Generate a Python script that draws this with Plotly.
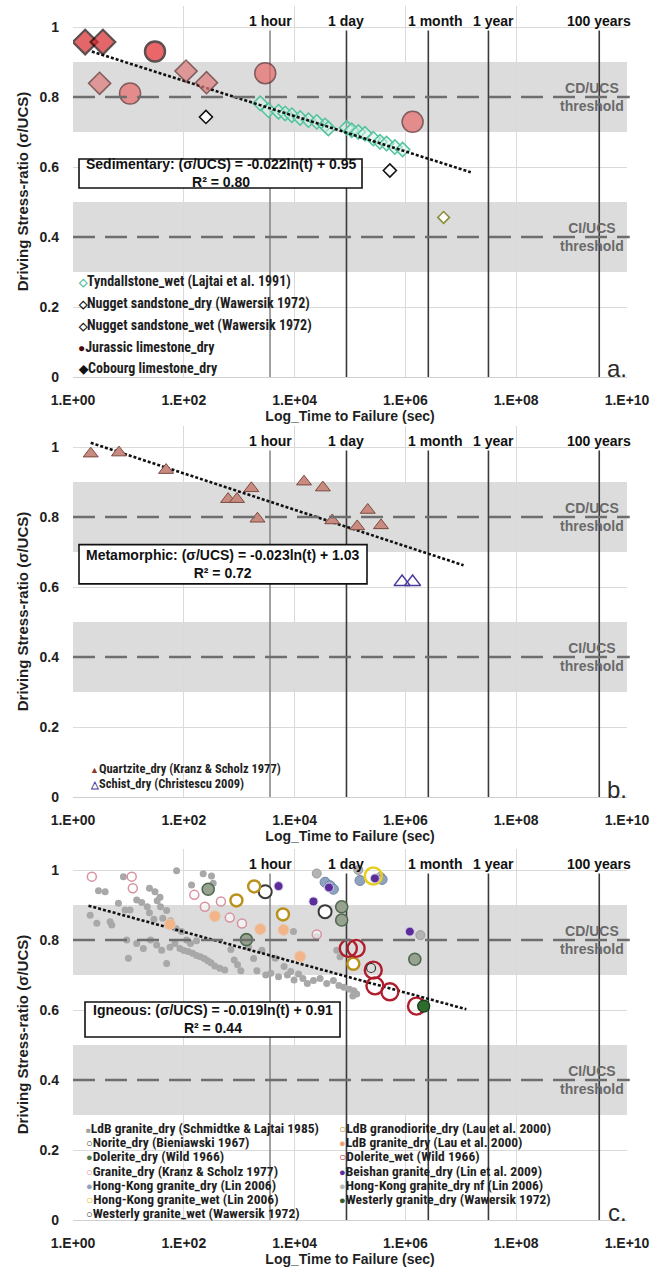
import numpy as np
import plotly.graph_objects as go

# ======================= DATA =======================
# x values: log10 of time to failure (s); y values: driving stress ratio (sigma/UCS)

# ---- Panel a: sedimentary ----
tyndall_log10_t = [3.38, 3.53, 3.71, 3.83, 3.95, 4.10, 4.25, 4.40, 4.55, 4.61, 4.94, 5.03, 5.15, 5.27, 5.42, 5.54, 5.66, 5.81, 5.95]
tyndall_ratio = [0.782, 0.762, 0.758, 0.753, 0.748, 0.740, 0.734, 0.729, 0.719, 0.710, 0.712, 0.705, 0.700, 0.695, 0.681, 0.672, 0.667, 0.657, 0.650]
nugget_dry_log10_t = [2.40, 5.72]
nugget_dry_ratio = [0.743, 0.590]
nugget_wet_log10_t = [6.69]
nugget_wet_ratio = [0.456]
jurassic_log10_t = [1.03, 1.48, 3.47, 6.13]
jurassic_ratio = [0.810, 0.930, 0.868, 0.729]
cobourg_log10_t = [0.22, 0.54, 0.48, 2.04, 2.41]
cobourg_ratio = [0.957, 0.957, 0.839, 0.874, 0.841]

# ---- Panel b: metamorphic ----
quartzite_log10_t = [0.32, 0.83, 1.68, 2.80, 2.96, 3.22, 3.33, 4.17, 4.51, 4.68, 5.13, 5.32, 5.56]
quartzite_ratio = [0.981, 0.984, 0.934, 0.851, 0.851, 0.882, 0.795, 0.901, 0.884, 0.790, 0.773, 0.820, 0.776]
schist_log10_t = [5.94, 6.13]
schist_ratio = [0.614, 0.614]

# ---- Panel c: igneous ----
schmidtke_log10_t = [0.46, 0.58, 0.91, 1.38, 1.48, 1.57, 1.87, 2.14, 2.35, 2.50, 2.53,
                     0.31, 0.43, 0.67, 0.70, 0.82, 0.94, 1.03, 1.15, 1.24, 1.34, 1.38, 1.46, 1.52, 1.58, 1.62, 1.69, 1.76, 1.86, 1.96, 2.05, 2.12, 2.23,
                     0.97, 1.00, 1.15, 1.27, 1.40, 1.51, 1.60, 1.69, 1.75, 1.84, 1.93, 2.00, 2.08, 2.16, 2.23, 2.30, 2.37, 2.43, 2.49, 2.56, 2.65, 2.74,
                     2.85, 2.91, 2.97, 3.03, 3.17, 3.26, 3.32, 3.41, 3.48, 3.57, 3.65, 3.71, 3.81, 3.87, 3.93, 3.99, 4.07, 4.15, 4.23, 4.34, 4.46, 4.58, 4.70, 4.80, 4.89, 4.99, 5.07,
                     5.12, 5.05, 3.98, 4.40, 4.76, 4.82]
schmidtke_ratio = [0.941, 0.938, 0.981, 0.948, 0.938, 0.922, 0.998, 0.957, 0.989, 0.983, 0.962,
                   0.871, 0.848, 0.852, 0.843, 0.905, 0.886, 0.886, 0.914, 0.907, 0.895, 0.878, 0.859, 0.912, 0.895, 0.862, 0.884, 0.855, 0.833, 0.824, 0.800, 0.790, 0.798,
                   0.800, 0.748, 0.790, 0.776, 0.800, 0.786, 0.771, 0.733, 0.779, 0.790, 0.776, 0.770, 0.767, 0.762, 0.756, 0.752, 0.747, 0.741, 0.735, 0.726, 0.719, 0.714,
                   0.773, 0.743, 0.729, 0.712, 0.779, 0.747, 0.712, 0.771, 0.700, 0.705, 0.748, 0.695, 0.724, 0.700, 0.710, 0.686, 0.703, 0.690, 0.676, 0.684, 0.690, 0.676, 0.684, 0.670, 0.665, 0.659, 0.655,
                   0.646, 0.640, 0.824, 0.810, 0.771, 0.752]
norite_log10_t = [3.47, 4.55]
norite_ratio = [0.938, 0.881]
dolerite_dry_log10_t = [2.44, 4.85, 4.85, 6.17, 3.13]
dolerite_dry_ratio = [0.945, 0.895, 0.857, 0.745, 0.801]
granite_ks_log10_t = [0.34, 1.06, 1.08, 2.19, 2.38, 2.67, 2.83, 3.05, 4.40]
granite_ks_ratio = [0.981, 0.981, 0.948, 0.929, 0.895, 0.910, 0.864, 0.847, 0.816]
hk_dry_log10_t = [4.55, 4.64, 4.70, 5.18, 5.58]
hk_dry_ratio = [0.965, 0.955, 0.945, 0.970, 0.973]
hk_wet_log10_t = [5.42]
hk_wet_ratio = [0.983]
westerly_wet_log10_t = [5.38]
westerly_wet_ratio = [0.720]
granodiorite_log10_t = [3.27, 2.95, 3.79, 5.06]
granodiorite_ratio = [0.953, 0.913, 0.873, 0.732]
ldb_lau_log10_t = [1.75, 2.56, 3.38, 3.80, 4.10]
ldb_lau_ratio = [0.845, 0.868, 0.831, 0.829, 0.753]
dolerite_wet_log10_t = [4.97, 5.11, 5.42, 5.45, 5.72, 6.20]
dolerite_wet_ratio = [0.776, 0.776, 0.714, 0.669, 0.652, 0.611]
beishan_log10_t = [3.71, 4.34, 4.62, 5.45, 6.08]
beishan_ratio = [0.954, 0.910, 0.950, 0.976, 0.824]
hk_nf_log10_t = [4.40, 5.15, 5.55, 6.27]
hk_nf_ratio = [0.990, 1.000, 0.981, 0.814]
westerly_dry_log10_t = [6.33]
westerly_dry_ratio = [0.611]

# ---- trend lines (end points) and equations ----
trend_a_log10_t = [0.34, 7.18]
trend_a_ratio = [0.930, 0.585]
trend_b_log10_t = [0.32, 7.05]
trend_b_ratio = [1.012, 0.662]
trend_c_log10_t = [0.28, 7.10]
trend_c_ratio = [0.898, 0.602]
equations = ["Sedimentary: (σ/UCS) = -0.022ln(t) + 0.95<br>R² = 0.80",
             "Metamorphic: (σ/UCS) = -0.023ln(t) + 1.03<br>R² = 0.72",
             "Igneous: (σ/UCS) = -0.019ln(t) + 0.91<br>R² = 0.44"]

# ---- reference times and thresholds ----
time_labels = ["1 hour", "1 day", "1 month", "1 year", "100 years"]
time_seconds = [3600, 86400, 2.592e6, 3.156e7, 3.156e9]
threshold_values = [0.8, 0.4]
threshold_labels = ["CD/UCS<br>threshold", "CI/UCS<br>threshold"]
x_tick_values = [1, 1e2, 1e4, 1e6, 1e8, 1e10]
x_tick_labels = ["1.E+00", "1.E+02", "1.E+04", "1.E+06", "1.E+08", "1.E+10"]
y_tick_values = [0, 0.2, 0.4, 0.6, 0.8, 1.0]
y_tick_labels = ["0", "0.2", "0.4", "0.6", "0.8", "1"]
panel_letters = ["a.", "b.", "c."]

legend_a = ["Tyndallstone_wet (Lajtai et al. 1991)", "Nugget sandstone_dry (Wawersik 1972)",
            "Nugget sandstone_wet (Wawersik 1972)", "Jurassic limestone_dry", "Cobourg limestone_dry"]
legend_b = ["Quartzite_dry (Kranz & Scholz 1977)", "Schist_dry (Christescu 2009)"]
legend_c_left = ["LdB granite_dry (Schmidtke & Lajtai 1985)", "Norite_dry (Bieniawski 1967)", "Dolerite_dry (Wild 1966)",
                 "Granite_dry (Kranz & Scholz 1977)", "Hong-Kong granite_dry (Lin 2006)", "Hong-Kong granite_wet (Lin 2006)",
                 "Westerly granite_wet (Wawersik 1972)"]
legend_c_right = ["LdB granodiorite_dry (Lau et al. 2000)", "LdB granite_dry (Lau et al. 2000)", "Dolerite_wet (Wild 1966)",
                  "Beishan granite_dry (Lin et al. 2009)", "Hong-Kong granite_dry nf (Lin 2006)", "Westerly granite_dry (Wawersik 1972)"]

# ======================= LAYOUT GEOMETRY =======================
W, H = 653, 1268
X0_PX, X1_PX = 73, 627
ZERO_PX = [377, 797, 1220]
UNIT_PX = 350.0
YMAX = 1.06
FONT = "Liberation Sans, Arial, Helvetica, sans-serif"
NARROW = "Roboto Condensed, Liberation Sans Narrow, Arial Narrow, Liberation Sans, Arial, sans-serif"


def ydom(z):
    top = z - YMAX * UNIT_PX
    return [1 - z / H, 1 - top / H]


def v_at(p, ypx):
    return (ZERO_PX[p] - ypx) / UNIT_PX


def xd_at(xpx):
    return (xpx - X0_PX) / (X1_PX - X0_PX)


def T(v):
    return 10 ** np.asarray(v, dtype=float)


fig = go.Figure()
axes = [("x", "y"), ("x2", "y2"), ("x3", "y3")]

# ---- reference time lines (drawn first, under markers) ----
for p, (xa, ya) in enumerate(axes):
    for lab, ts in zip(time_labels, time_seconds):
        col = "#8a8a8a" if lab == "1 hour" else "#3a3a3a"
        fig.add_trace(go.Scatter(x=[ts, ts], y=[0, 0.99], mode="lines", xaxis=xa, yaxis=ya,
                                 line=dict(color=col, width=1.6), hoverinfo="skip", showlegend=False))


def add_pts(p, lx, ly, name, **mk):
    xa, ya = axes[p]
    fig.add_trace(go.Scatter(x=T(lx), y=ly, mode="markers", name=name, xaxis=xa, yaxis=ya,
                             marker=mk, showlegend=False))


def add_trend(p, lx, ly):
    xa, ya = axes[p]
    fig.add_trace(go.Scatter(x=T(lx), y=ly, mode="lines", xaxis=xa, yaxis=ya, hoverinfo="skip",
                             line=dict(color="#111111", width=2.6, dash="3px,2px"), showlegend=False))


# ---- panel a ----
add_pts(0, tyndall_log10_t, tyndall_ratio, "Tyndallstone_wet", symbol="diamond", size=11,
        color="rgba(215,243,232,0.55)", line=dict(color="#52c29f", width=1.5))
add_trend(0, trend_a_log10_t, trend_a_ratio)
add_pts(0, nugget_dry_log10_t, nugget_dry_ratio, "Nugget sandstone_dry", symbol="diamond", size=10,
        color="white", line=dict(color="#111111", width=1.6))
add_pts(0, nugget_wet_log10_t, nugget_wet_ratio, "Nugget sandstone_wet", symbol="diamond", size=9,
        color="white", line=dict(color="#8c8c3c", width=1.6))
add_pts(0, jurassic_log10_t, jurassic_ratio, "Jurassic limestone_dry", symbol="circle", size=[21, 20, 21, 21],
        color=["#e8696b", "#e3262b", "#e8696b", "#e8696b"],
        line=dict(color=["#5a2626", "#1a0505", "#5a2626", "#5a2626"], width=[1.5, 2.4, 1.5, 1.5]))
add_pts(0, cobourg_log10_t, cobourg_ratio, "Cobourg limestone_dry", symbol="diamond", size=[19, 19, 17, 17, 17],
        color=["#d8262b", "#d8262b", "#e07a7a", "#e07a7a", "#e07a7a"],
        line=dict(color=["#1a0505", "#1a0505", "#5a2a2a", "#5a2a2a", "#5a2a2a"], width=[2.2, 2.2, 1.5, 1.5, 1.5]))

# ---- panel b ----
add_trend(1, trend_b_log10_t, trend_b_ratio)
add_pts(1, quartzite_log10_t, quartzite_ratio, "Quartzite_dry", symbol="triangle-up", size=13,
        color="#c98a80", line=dict(color="#7a4a40", width=1))
add_pts(1, schist_log10_t, schist_ratio, "Schist_dry", symbol="triangle-up-open", size=14,
        color="#4a3aa0", line=dict(width=1.5))

# ---- panel c ----
add_pts(2, schmidtke_log10_t, schmidtke_ratio, "LdB granite_dry (Schmidtke)", symbol="circle", size=7,
        color="#a8a8a8", line=dict(width=0))
add_trend(2, trend_c_log10_t, trend_c_ratio)
add_pts(2, granite_ks_log10_t, granite_ks_ratio, "Granite_dry", symbol="circle", size=9,
        color="rgba(255,255,255,0.6)", line=dict(color="#d8929f", width=1.5))
add_pts(2, ldb_lau_log10_t, ldb_lau_ratio, "LdB granite_dry (Lau)", symbol="circle", size=11,
        color="#f2b58a", line=dict(color="#e8c8b0", width=1))
add_pts(2, hk_nf_log10_t, hk_nf_ratio, "Hong-Kong granite_dry nf", symbol="circle", size=9,
        color="#b4b4b4", line=dict(color="#9a9a9a", width=1))
add_pts(2, dolerite_dry_log10_t, dolerite_dry_ratio, "Dolerite_dry", symbol="circle", size=12,
        color="#97a390", line=dict(color="#4f6a4f", width=1.6))
add_pts(2, hk_dry_log10_t, hk_dry_ratio, "Hong-Kong granite_dry", symbol="circle", size=10,
        color="#8ea3bf", line=dict(color="#6f84a0", width=1))
add_pts(2, norite_log10_t, norite_ratio, "Norite_dry", symbol="circle", size=13,
        color="white", line=dict(color="#3a3a3a", width=2))
add_pts(2, granodiorite_log10_t, granodiorite_ratio, "LdB granodiorite_dry", symbol="circle", size=12,
        color="white", line=dict(color="#b8901a", width=2.4))
add_pts(2, hk_wet_log10_t, hk_wet_ratio, "Hong-Kong granite_wet", symbol="circle", size=17,
        color="rgba(255,255,255,0)", line=dict(color="#e6cf1f", width=2.6))
add_pts(2, beishan_log10_t, beishan_ratio, "Beishan granite_dry", symbol="circle", size=9,
        color="#5b2d9a", line=dict(color="#d8d0ea", width=1))
add_pts(2, dolerite_wet_log10_t, dolerite_wet_ratio, "Dolerite_wet", symbol="circle", size=17,
        color="rgba(255,255,255,0)", line=dict(color="#b01e2e", width=2.4))
add_pts(2, westerly_wet_log10_t, westerly_wet_ratio, "Westerly granite_wet", symbol="circle", size=9,
        color="rgba(255,255,255,0)", line=dict(color="#333333", width=1.2))
add_pts(2, westerly_dry_log10_t, westerly_dry_ratio, "Westerly granite_dry", symbol="circle", size=12,
        color="#2e6b2e", line=dict(color="#163a16", width=1.2))

# ======================= AXES =======================
layout = dict(width=W, height=H, margin=dict(l=0, r=0, t=0, b=0, autoexpand=False),
              paper_bgcolor="white", plot_bgcolor="white", showlegend=False,
              font=dict(family=FONT, color="#1a1a1a"))
tickfont = dict(family=FONT, size=14, color="#1f1f1f", weight="bold")
for p, (xa, ya) in enumerate(axes):
    xk = "xaxis" if p == 0 else f"xaxis{p+1}"
    yk = "yaxis" if p == 0 else f"yaxis{p+1}"
    layout[xk] = dict(type="log", range=[0, 10], domain=[X0_PX / W, X1_PX / W], anchor=ya, automargin=False,
                      tickvals=x_tick_values, ticktext=x_tick_labels, tickfont=tickfont,
                      showgrid=True, gridcolor="#dadada", gridwidth=1, zeroline=False,
                      showline=True, linecolor="#d0d0d0", linewidth=1, ticks="", ticklabelstandoff=10,
                      title=dict(text="Log_Time to Failure (sec)", standoff=3,
                                 font=dict(family=FONT, size=14, color="#1f1f1f", weight="bold")),
                      fixedrange=True)
    layout[yk] = dict(range=[0, YMAX], domain=ydom(ZERO_PX[p]), anchor=xa, automargin=False,
                      tickvals=y_tick_values, ticktext=y_tick_labels, tickfont=tickfont,
                      showgrid=True, gridcolor="#dadada", gridwidth=1, zeroline=False,
                      showline=False, ticks="", ticklabelstandoff=13,
                      title=dict(text="Driving Stress-ratio (σ/UCS)", standoff=7,
                                 font=dict(family=FONT, size=15, color="#1f1f1f", weight="bold")),
                      fixedrange=True)

shapes = []
annotations = []
boxes = [([79, 362], [0.540, 0.623]), ([79, 367], [0.609, 0.721]), ([85, 340], [0.523, 0.623])]
label_shift = {"1 hour": 0, "1 day": 0, "1 month": 7, "1 year": 5, "100 years": 0}

for p, (xa, ya) in enumerate(axes):
    # grey bands
    for lo, hi in [(0.7, 0.9), (0.3, 0.5)]:
        shapes.append(dict(type="rect", xref=f"{xa} domain", yref=ya, x0=0, x1=1, y0=lo, y1=hi,
                           fillcolor="#dcdcdc", line=dict(width=0), layer="below"))
    # threshold lines + labels
    for tv, tl in zip(threshold_values, threshold_labels):
        shapes.append(dict(type="line", xref=f"{xa} domain", yref=ya, x0=0, x1=1.005, y0=tv, y1=tv,
                           line=dict(color="#6e6e6e", width=2.4, dash="22px,10px"), layer="above"))
        annotations.append(dict(xref=f"{xa} domain", yref=ya, x=xd_at(592), y=tv, text=tl, showarrow=False,
                                xanchor="center", yanchor="middle",
                                font=dict(family=FONT, size=14, color="#6a6a6a", weight="bold")))
    # time labels
    for lab, ts in zip(time_labels, time_seconds):
        annotations.append(dict(xref=xa, yref=ya, x=np.log10(ts), y=v_at(p, ZERO_PX[p] - 356), text=lab,
                                showarrow=False, xanchor="center", yanchor="middle", xshift=label_shift[lab],
                                font=dict(family=FONT, size=14, color="#111111", weight="bold")))
    # equation box
    (bx0, bx1), (by0, by1) = boxes[p]
    shapes.append(dict(type="rect", xref=f"{xa} domain", yref=ya, x0=xd_at(bx0), x1=xd_at(bx1), y0=by0, y1=by1,
                       fillcolor="white", line=dict(color="#111111", width=1.6), layer="above"))
    annotations.append(dict(xref=f"{xa} domain", yref=ya, x=(xd_at(bx0) + xd_at(bx1)) / 2, y=(by0 + by1) / 2,
                            text=equations[p], showarrow=False, xanchor="center", yanchor="middle", align="center",
                            font=dict(family=FONT, size=14, color="#111111", weight="bold")))
    # panel letter
    annotations.append(dict(xref=f"{xa} domain", yref=ya, x=xd_at(617), y=v_at(p, ZERO_PX[p] - 8), text=panel_letters[p],
                            showarrow=False, xanchor="center", yanchor="middle",
                            font=dict(family=FONT, size=24, color="#2a2a2a")))


def add_legend(p, labels, glyphs, x_px, y0_px, dy, size):
    xa, ya = axes[p]
    for i, (lab, (g, col, gs)) in enumerate(zip(labels, glyphs)):
        txt = f"<span style='color:{col};font-size:{gs}px'>{g}</span>{lab}"
        annotations.append(dict(xref=f"{xa} domain", yref=ya, x=xd_at(x_px), y=v_at(p, y0_px + i * dy), text=txt,
                                showarrow=False, xanchor="left", yanchor="middle",
                                font=dict(family=NARROW, size=size, color="#1f1f1f", weight="bold")))


add_legend(0, legend_a, [("◇", "#52c29f", 11), ("◇", "#111111", 11), ("◇", "#111111", 11),
                         ("●", "#4a0a0a", 12), ("◆", "#111111", 12)], 76, 282, 21.6, 14)
add_legend(1, legend_b, [("▲", "#8a3a30", 9), ("△", "#4a3aa0", 10)], 88, 768, 15.5, 12.5)
add_legend(2, legend_c_left, [("■", "#a0a0a0", 8), ("○", "#3a3a3a", 11), ("●", "#4f7a4f", 11), ("○", "#d8929f", 11),
                              ("●", "#8ea3bf", 11), ("○", "#d8c020", 12), ("○", "#333333", 11)], 84, 1128, 14.2, 13.5)
add_legend(2, legend_c_right, [("○", "#b8901a", 12), ("●", "#f2a070", 11), ("○", "#b01e2e", 12),
                               ("●", "#5b2d9a", 11), ("●", "#b8b8b8", 11), ("●", "#2e5e2e", 11)], 337, 1128, 14.2, 13.5)

layout["shapes"] = shapes
layout["annotations"] = annotations
fig.update_layout(**layout)
fig.write_html("out.html", include_plotlyjs=True)
